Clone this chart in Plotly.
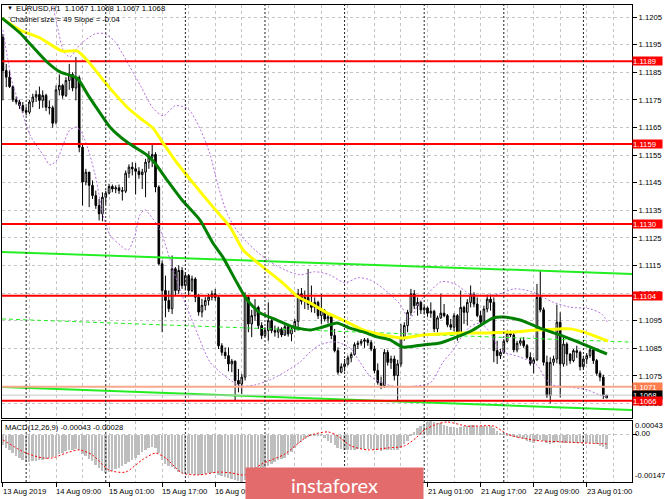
import plotly.graph_objects as go

# ---------------- data ----------------
bar_index = list(range(-16, 167))  # H1 bars, 0 = 14 Aug 09:00

opens = [1.11977, 1.11856, 1.11832, 1.11798, 1.11750, 1.11742, 1.11729, 1.11711, 1.11705, 1.11742,
         1.11760, 1.11769, 1.11748, 1.11766, 1.11723, 1.11721, 1.11669, 1.11786, 1.11802, 1.11766,
         1.11820, 1.11842, 1.11793, 1.11830, 1.11578, 1.11452, 1.11488, 1.11440, 1.11403, 1.11367,
         1.11337, 1.11397, 1.11412, 1.11436, 1.11427, 1.11431, 1.11421, 1.11419, 1.11484, 1.11506,
         1.11500, 1.11491, 1.11479, 1.11488, 1.11524, 1.11542, 1.11552, 1.11434, 1.11156, 1.11059,
         1.11023, 1.10993, 1.11138, 1.11059, 1.11132, 1.11077, 1.11113, 1.11059, 1.11101, 1.11035,
         1.10981, 1.11005, 1.11023, 1.11035, 1.11047, 1.11034, 1.10859, 1.10835, 1.10823, 1.10793,
         1.10803, 1.10733, 1.10720, 1.10745, 1.11034, 1.10938, 1.10968, 1.10998, 1.10932, 1.10896,
         1.10914, 1.10950, 1.10914, 1.10908, 1.10920, 1.10898, 1.10928, 1.10902, 1.10920, 1.10947,
         1.11047, 1.11020, 1.11034, 1.11008, 1.10998, 1.11016, 1.10968, 1.10986, 1.10956, 1.10964,
         1.10896, 1.10841, 1.10763, 1.10783, 1.10793, 1.10815, 1.10827, 1.10863, 1.10868, 1.10875,
         1.10880, 1.10871, 1.10847, 1.10769, 1.10726, 1.10714, 1.10835, 1.10799, 1.10811, 1.10751,
         1.10793, 1.10890, 1.10932, 1.10980, 1.11047, 1.11004, 1.11016, 1.10989, 1.10996, 1.10977,
         1.10984, 1.10920, 1.10960, 1.10977, 1.10968, 1.10935, 1.10926, 1.10968, 1.10904, 1.10998,
         1.10980, 1.11016, 1.11044, 1.11010, 1.10968, 1.10944, 1.10992, 1.11028, 1.11016, 1.10841,
         1.10823, 1.10835, 1.10875, 1.10904, 1.10898, 1.10844, 1.10868, 1.10877, 1.10859, 1.10817,
         1.10795, 1.10808, 1.11034, 1.10989, 1.10799, 1.10678, 1.10799, 1.10811, 1.10944, 1.10793,
         1.10865, 1.10829, 1.10805, 1.10841, 1.10835, 1.10783, 1.10811, 1.10823, 1.10844, 1.10805,
         1.10759, 1.10745, 1.10670]

highs = [1.11989, 1.11880, 1.11856, 1.11802, 1.11762, 1.11750, 1.11742, 1.11726, 1.11750, 1.11772,
         1.11784, 1.11798, 1.11784, 1.11772, 1.11748, 1.11729, 1.11802, 1.11842, 1.11808, 1.11832,
         1.11880, 1.11850, 1.11905, 1.11838, 1.11591, 1.11500, 1.11488, 1.11458, 1.11421, 1.11391,
         1.11415, 1.11421, 1.11446, 1.11443, 1.11440, 1.11443, 1.11434, 1.11494, 1.11516, 1.11524,
         1.11521, 1.11506, 1.11500, 1.11536, 1.11564, 1.11588, 1.11560, 1.11440, 1.11168, 1.11113,
         1.11059, 1.11186, 1.11144, 1.11150, 1.11144, 1.11126, 1.11119, 1.11113, 1.11107, 1.11047,
         1.11029, 1.11035, 1.11047, 1.11059, 1.11065, 1.11041, 1.10868, 1.10853, 1.10853, 1.10811,
         1.10805, 1.10775, 1.10757, 1.11053, 1.11041, 1.10989, 1.11028, 1.11004, 1.10944, 1.10926,
         1.11016, 1.10962, 1.10932, 1.10928, 1.10926, 1.10940, 1.10938, 1.10932, 1.10956, 1.11065,
         1.11068, 1.11059, 1.11137, 1.11077, 1.11034, 1.11022, 1.11047, 1.10992, 1.10974, 1.10968,
         1.10920, 1.10853, 1.10795, 1.10811, 1.10823, 1.10835, 1.10871, 1.10877, 1.10883, 1.10887,
         1.10887, 1.10880, 1.10859, 1.10795, 1.10747, 1.10847, 1.10844, 1.10823, 1.10823, 1.10808,
         1.10938, 1.10944, 1.10989, 1.11065, 1.11061, 1.11034, 1.11022, 1.11004, 1.11001, 1.11016,
         1.10989, 1.10968, 1.11047, 1.11010, 1.10974, 1.10956, 1.10977, 1.10974, 1.11059, 1.11004,
         1.11028, 1.11077, 1.11053, 1.11034, 1.10986, 1.11004, 1.11044, 1.11044, 1.11034, 1.10877,
         1.10847, 1.10883, 1.10914, 1.10914, 1.10908, 1.10877, 1.10887, 1.10890, 1.10865, 1.10835,
         1.10817, 1.11083, 1.11131, 1.10998, 1.10823, 1.10817, 1.10823, 1.11008, 1.10980, 1.10890,
         1.10871, 1.10832, 1.10847, 1.10859, 1.10841, 1.10823, 1.10832, 1.10853, 1.10851, 1.10811,
         1.10769, 1.10754, 1.10680]

lows = [1.11748, 1.11796, 1.11793, 1.11742, 1.11733, 1.11717, 1.11702, 1.11693, 1.11699, 1.11723,
        1.11742, 1.11717, 1.11721, 1.11709, 1.11697, 1.11649, 1.11661, 1.11766, 1.11754, 1.11760,
        1.11786, 1.11781, 1.11748, 1.11560, 1.11367, 1.11440, 1.11361, 1.11391, 1.11355, 1.11313,
        1.11310, 1.11371, 1.11407, 1.11415, 1.11412, 1.11409, 1.11385, 1.11412, 1.11467, 1.11476,
        1.11407, 1.11464, 1.11427, 1.11397, 1.11500, 1.11506, 1.11415, 1.11150, 1.10908, 1.10962,
        1.10981, 1.10974, 1.11041, 1.11047, 1.11065, 1.11059, 1.11041, 1.11053, 1.11017, 1.10968,
        1.10962, 1.10987, 1.11005, 1.11023, 1.11022, 1.10847, 1.10823, 1.10811, 1.10766, 1.10763,
        1.10660, 1.10690, 1.10684, 1.10733, 1.10908, 1.10890, 1.10950, 1.10920, 1.10883, 1.10890,
        1.10877, 1.10904, 1.10892, 1.10887, 1.10890, 1.10894, 1.10892, 1.10875, 1.10908, 1.10914,
        1.11008, 1.10992, 1.10989, 1.10980, 1.10977, 1.10956, 1.10938, 1.10947, 1.10940, 1.10883,
        1.10835, 1.10754, 1.10759, 1.10766, 1.10787, 1.10799, 1.10823, 1.10847, 1.10859, 1.10851,
        1.10859, 1.10839, 1.10759, 1.10718, 1.10702, 1.10706, 1.10787, 1.10775, 1.10733, 1.10660,
        1.10783, 1.10877, 1.10908, 1.10968, 1.10992, 1.10968, 1.10974, 1.10972, 1.10964, 1.10960,
        1.10908, 1.10908, 1.10956, 1.10962, 1.10926, 1.10916, 1.10911, 1.10877, 1.10890, 1.10938,
        1.10932, 1.10998, 1.10998, 1.10962, 1.10932, 1.10938, 1.10980, 1.10986, 1.10799, 1.10793,
        1.10811, 1.10829, 1.10871, 1.10890, 1.10835, 1.10835, 1.10859, 1.10851, 1.10811, 1.10787,
        1.10759, 1.10803, 1.10980, 1.10787, 1.10670, 1.10650, 1.10787, 1.10795, 1.10672, 1.10783,
        1.10787, 1.10793, 1.10799, 1.10815, 1.10769, 1.10771, 1.10793, 1.10815, 1.10793, 1.10751,
        1.10730, 1.10666, 1.10670]

closes = [1.11856, 1.11832, 1.11798, 1.11750, 1.11742, 1.11729, 1.11711, 1.11705, 1.11742, 1.11760,
          1.11769, 1.11748, 1.11766, 1.11723, 1.11721, 1.11665, 1.11786, 1.11802, 1.11766, 1.11820,
          1.11842, 1.11793, 1.11830, 1.11578, 1.11452, 1.11488, 1.11440, 1.11403, 1.11367, 1.11337,
          1.11397, 1.11412, 1.11436, 1.11427, 1.11431, 1.11421, 1.11419, 1.11484, 1.11506, 1.11500,
          1.11491, 1.11479, 1.11488, 1.11524, 1.11542, 1.11552, 1.11434, 1.11156, 1.11059, 1.11023,
          1.10993, 1.11138, 1.11059, 1.11132, 1.11077, 1.11113, 1.11059, 1.11101, 1.11035, 1.10981,
          1.11005, 1.11023, 1.11035, 1.11047, 1.11034, 1.10859, 1.10835, 1.10823, 1.10793, 1.10803,
          1.10733, 1.10720, 1.10745, 1.11034, 1.10938, 1.10968, 1.10998, 1.10932, 1.10896, 1.10914,
          1.10950, 1.10914, 1.10908, 1.10920, 1.10898, 1.10928, 1.10902, 1.10920, 1.10947, 1.11047,
          1.11020, 1.11034, 1.11008, 1.10998, 1.11016, 1.10968, 1.10986, 1.10956, 1.10964, 1.10896,
          1.10841, 1.10763, 1.10783, 1.10793, 1.10815, 1.10827, 1.10863, 1.10868, 1.10875, 1.10880,
          1.10871, 1.10847, 1.10769, 1.10726, 1.10714, 1.10835, 1.10799, 1.10811, 1.10751, 1.10793,
          1.10890, 1.10932, 1.10980, 1.11047, 1.11004, 1.11016, 1.10989, 1.10996, 1.10977, 1.10984,
          1.10920, 1.10960, 1.10977, 1.10968, 1.10935, 1.10926, 1.10968, 1.10904, 1.10998, 1.10980,
          1.11016, 1.11044, 1.11010, 1.10968, 1.10944, 1.10992, 1.11028, 1.11016, 1.10841, 1.10823,
          1.10835, 1.10875, 1.10904, 1.10898, 1.10844, 1.10868, 1.10877, 1.10859, 1.10817, 1.10795,
          1.10808, 1.11034, 1.10989, 1.10799, 1.10678, 1.10799, 1.10811, 1.10944, 1.10793, 1.10865,
          1.10829, 1.10805, 1.10841, 1.10835, 1.10783, 1.10811, 1.10823, 1.10844, 1.10805, 1.10759,
          1.10745, 1.10680, 1.10680]

# moving averages (sampled along the drawn curves)
ma_slow_idx = [-16.3, -10.85, -4.82, 1.81, 6.33, 9.35, 15.4, 21.4, 25.3, 29.2, 32.3, 36.5, 41.3, 47.3,
               52.5, 56.4, 62.4, 68.4, 73.0, 76.6, 81.7, 86.5, 92.6, 98.6, 104.3, 110.6, 115.8, 121.8,
               129.9, 137.8, 145.0, 151.9, 155.0, 158.9, 163.1, 166.4]
ma_slow_val = [1.12046, 1.12003, 1.11974, 1.11927, 1.11927, 1.11894, 1.11804, 1.11724, 1.11684, 1.11648,
               1.11593, 1.11521, 1.11449, 1.11362, 1.11289, 1.11206, 1.11144, 1.11086, 1.11036, 1.11014,
               1.10978, 1.10952, 1.10916, 1.10898, 1.10887, 1.10898, 1.10901, 1.10905, 1.10905, 1.10909,
               1.10916, 1.10920, 1.10920, 1.10909, 1.10891, 1.10876]
ma_fast_idx = [-16.3, -10.85, -6.93, -2.71, 1.21, 6.33, 9.65, 13.3, 16.3, 21.4, 27.4, 29.8, 33.5, 38.0,
               43.4, 47.3, 50.3, 54.6, 57.6, 61.5, 66.6, 71.5, 76.6, 80.5, 84.7, 88.6, 92.6, 96.8, 100.7,
               104.6, 110.6, 115.8, 120.9, 125.7, 131.7, 134.8, 139.9, 145.9, 151.9, 158.0, 166.1]
ma_fast_val = [1.12046, 1.11992, 1.11941, 1.11887, 1.11851, 1.11829, 1.11767, 1.11702, 1.11651, 1.11597,
               1.11550, 1.11521, 1.11459, 1.11387, 1.11314, 1.11231, 1.11180, 1.11086, 1.11025, 1.10978,
               1.10952, 1.10927, 1.10916, 1.10927, 1.10941, 1.10923, 1.10909, 1.10891, 1.10880, 1.10854,
               1.10862, 1.10869, 1.10891, 1.10916, 1.10959, 1.10963, 1.10952, 1.10923, 1.10898, 1.10869,
               1.10829]

# envelope bands (violet dotted)
band_up_idx = [-3, 0.5, 2.4, 4.2, 7.2, 11.8, 14.8, 17.8, 21.4, 25.3, 29.2, 32.3, 35.9, 39.8, 43.4, 46.4,
               48.8, 51.8, 55.5, 60, 64.5, 69, 73.5, 78, 82.5, 87.1, 91, 94.6, 99.1, 103.6, 106.6, 109.6,
               112.6, 116.2, 120.2, 124.7, 129.2, 133.7, 138.2, 143.6, 149.6, 154.8, 160.8, 164.4, 166.2]
band_up_val = [1.12220, 1.12010, 1.11924, 1.11906, 1.11949, 1.11989, 1.11989, 1.11960, 1.11888, 1.11805,
               1.11721, 1.11692, 1.11728, 1.11717, 1.11645, 1.11554, 1.11442, 1.11333, 1.11261, 1.11206,
               1.11163, 1.11134, 1.11116, 1.11127, 1.11116, 1.11087, 1.11105, 1.11098, 1.11062, 1.11011,
               1.10957, 1.11018, 1.11054, 1.11091, 1.11083, 1.11047, 1.11040, 1.11047, 1.11065, 1.11054,
               1.11018, 1.10999, 1.10993, 1.10975, 1.10946]
band_lo_idx = [-16, -14.5, -13, -10.9, -7.8, -3.9, -1.8, 0.3, 2.1, 4.2, 6.3, 8.7, 11.8, 14.2, 16.3, 19.3,
               21.7, 23.8, 25.3, 26.8, 28.3, 31.4, 34.4, 37.4, 40.4, 43.4, 46.4, 49.4, 52.5, 55.5, 60, 64.5,
               69, 73.6, 76.6, 79.6, 84.1, 88.6, 91.6, 94.7, 99.2, 103.7, 108.2, 112.8, 116.7, 119.7, 122.7,
               124.8, 127.8, 130.8, 133.9, 139.9, 145, 147.4, 149.8, 154.9, 160.1, 164, 166.1]
band_lo_val = [1.12003, 1.11894, 1.11804, 1.11731, 1.11622, 1.11550, 1.11514, 1.11532, 1.11586, 1.11641,
               1.11651, 1.11604, 1.11478, 1.11333, 1.11260, 1.11224, 1.11206, 1.11260, 1.11333, 1.11351,
               1.11333, 1.11278, 1.11170, 1.11061, 1.10970, 1.10880, 1.10800, 1.10764, 1.10735, 1.10713,
               1.10717, 1.10735, 1.10764, 1.10800, 1.10836, 1.10862, 1.10873, 1.10851, 1.10800, 1.10749,
               1.10720, 1.10709, 1.10713, 1.10724, 1.10800, 1.10843, 1.10898, 1.10927, 1.10941, 1.10909,
               1.10843, 1.10818, 1.10789, 1.10742, 1.10717, 1.10709, 1.10699, 1.10680, 1.10673]

# regression channel (start bar, end bar, prices)
channel_idx = [-16.28, 173.65]
channel_upper = [1.11199, 1.11119]
channel_mid = [1.10956, 1.10872]
channel_lower = [1.10709, 1.10626]

red_levels = [1.1189, 1.1159, 1.1130, 1.1104, 1.1066]
salmon_level = 1.1071
bid_level = 1.1068

# MACD(12,26,9): main histogram per bar + signal line samples
macd_hist = [-0.00032, -0.00040, -0.00048, -0.00058, -0.00065, -0.00072, -0.00079, -0.00084, -0.00085, -0.00083,
             -0.00081, -0.00079, -0.00077, -0.00075, -0.00072, -0.00070, -0.00066, -0.00060, -0.00056, -0.00051,
             -0.00048, -0.00046, -0.00044, -0.00046, -0.00060, -0.00066, -0.00074, -0.00083, -0.00094, -0.00103,
             -0.00112, -0.00118, -0.00116, -0.00112, -0.00108, -0.00104, -0.00098, -0.00092, -0.00085, -0.00079,
             -0.00072, -0.00064, -0.00055, -0.00048, -0.00042, -0.00038, -0.00040, -0.00058, -0.00078, -0.00090,
             -0.00098, -0.00100, -0.00108, -0.00115, -0.00119, -0.00121, -0.00122, -0.00123, -0.00124, -0.00125,
             -0.00124, -0.00122, -0.00120, -0.00119, -0.00119, -0.00124, -0.00128, -0.00131, -0.00134, -0.00137,
             -0.00141, -0.00144, -0.00147, -0.00140, -0.00133, -0.00127, -0.00120, -0.00114, -0.00108, -0.00102,
             -0.00096, -0.00090, -0.00085, -0.00080, -0.00076, -0.00072, -0.00062, -0.00052, -0.00042, -0.00030,
             -0.00022, -0.00014, -0.00008, -0.00005, -0.00004, -0.00003, -0.00004, -0.00010, -0.00018, -0.00026,
             -0.00032, -0.00040, -0.00044, -0.00047, -0.00048, -0.00047, -0.00046, -0.00045, -0.00044, -0.00043,
             -0.00043, -0.00044, -0.00046, -0.00048, -0.00050, -0.00048, -0.00047, -0.00046, -0.00047, -0.00046,
             -0.00040, -0.00030, -0.00018, -0.00002, 0.00010, 0.00020, 0.00028, 0.00034, 0.00040, 0.00043,
             0.00041, 0.00038, 0.00036, 0.00030, 0.00027, 0.00025, 0.00024, 0.00022, 0.00025, 0.00026,
             0.00027, 0.00030, 0.00030, 0.00028, 0.00026, 0.00026, 0.00027, 0.00028, 0.00020, 0.00012,
             0.00006, 0.00002, -0.00001, -0.00003, -0.00006, -0.00009, -0.00011, -0.00014, -0.00018, -0.00022,
             -0.00025, -0.00018, -0.00016, -0.00020, -0.00026, -0.00028, -0.00027, -0.00022, -0.00026, -0.00025,
             -0.00025, -0.00026, -0.00025, -0.00025, -0.00027, -0.00027, -0.00026, -0.00025, -0.00026, -0.00030,
             -0.00034, -0.00039, -0.00043]
signal_idx = [-16, -9, -4, -1, 3, 7, 11, 16, 21, 26, 30, 33, 38, 43, 49, 53, 57, 62, 69, 76, 82, 85, 89,
              94, 100, 105, 108.5, 111, 115, 118, 124, 132, 136, 140.5, 146, 153, 160, 166]
signal_val = [-0.00016, -0.00057, -0.00072, -0.00072, -0.00057, -0.00047, -0.00063, -0.00110, -0.00116,
              -0.00078, -0.00057, -0.00072, -0.00119, -0.00125, -0.00116, -0.00119, -0.00125, -0.00091,
              -0.00060, -0.00004, 0.00009, -0.00004, -0.00035, -0.00047, -0.00041, -0.00035, -0.00010,
              0.00015, 0.00034, 0.00040, 0.00027, 0.00027, 0.00002, -0.00010, -0.00019, -0.00022,
              -0.00026, -0.00028]

day_breaks = [-9, 15, 39, 63, 87, 111, 135, 159]
time_tick_idx = [-16, 0, 16, 32, 48, 64, 80, 96, 112, 128, 144, 160]
time_tick_text = ["13 Aug 2019", "14 Aug 09:00", "15 Aug 01:00", "15 Aug 17:00", "16 Aug 09:00",
                  "19 Aug 01:00", "19 Aug 17:00", "20 Aug 09:00", "21 Aug 01:00", "21 Aug 17:00",
                  "22 Aug 09:00", "23 Aug 01:00"]

# ---------------- layout geometry ----------------
W, H = 665, 499
L_PX, R_PX, T_PX, B_PX = 2, 632, 5, 482
MAIN_BOTTOM_PX, MACD_TOP_PX = 418, 421


def pxx(px):
    return (px - L_PX) / (R_PX - L_PX)


def pxy(py):
    return (B_PX - py) / (B_PX - T_PX)


X_RANGE = [-16.28, 173.65]
PRICE_RANGE = [1.105971, 1.120935]
MACD_RANGE = [-0.00147, 0.00043]
FONT = "Liberation Sans"
FS = 7.7
GRID = "#C4C4C4"

fig = go.Figure()

# channel
fig.add_trace(go.Scatter(x=channel_idx, y=channel_upper, mode="lines",
                         line=dict(color="#22EE22", width=2)))
fig.add_trace(go.Scatter(x=channel_idx, y=channel_lower, mode="lines",
                         line=dict(color="#22EE22", width=2)))
fig.add_trace(go.Scatter(x=channel_idx, y=channel_mid, mode="lines",
                         line=dict(color="#22EE22", width=1, dash="4px,3px")))

# bands
for bx, by in ((band_up_idx, band_up_val), (band_lo_idx, band_lo_val)):
    fig.add_trace(go.Scatter(x=bx, y=by, mode="lines",
                             line=dict(color="#B36FE0", width=1, dash="2px,2px", shape="spline",
                                       smoothing=0.8)))

# horizontal levels
fig.add_trace(go.Scatter(x=X_RANGE, y=[bid_level, bid_level], mode="lines",
                         line=dict(color="#C8C8C8", width=1)))
fig.add_trace(go.Scatter(x=X_RANGE, y=[salmon_level, salmon_level], mode="lines",
                         line=dict(color="#F7A98C", width=2)))

# candles
fig.add_trace(go.Candlestick(
    x=bar_index, open=opens, high=highs, low=lows, close=closes,
    increasing=dict(line=dict(color="#000000", width=1), fillcolor="#FFFFFF"),
    decreasing=dict(line=dict(color="#000000", width=1), fillcolor="#000000"),
    whiskerwidth=0))

for lv in red_levels:
    fig.add_trace(go.Scatter(x=X_RANGE, y=[lv, lv], mode="lines",
                             line=dict(color="#FF0000", width=2)))

# moving averages
fig.add_trace(go.Scatter(x=ma_slow_idx, y=ma_slow_val, mode="lines",
                         line=dict(color="#FFFF00", width=3, shape="spline", smoothing=0.6)))
fig.add_trace(go.Scatter(x=ma_fast_idx, y=ma_fast_val, mode="lines",
                         line=dict(color="#008000", width=3, shape="spline", smoothing=0.6)))

# MACD
fig.add_trace(go.Bar(x=bar_index, y=macd_hist, width=0.6, xaxis="x2", yaxis="y2",
                     marker=dict(color="#BEBEBE", line=dict(width=0))))
fig.add_trace(go.Scatter(x=signal_idx, y=signal_val, mode="lines", xaxis="x2", yaxis="y2",
                         line=dict(color="#FF0000", width=1, dash="2px,2px", shape="spline",
                                   smoothing=0.7)))

shapes = []
for d in day_breaks:
    for y0, y1 in ((pxy(MAIN_BOTTOM_PX), 1), (0, pxy(MACD_TOP_PX))):
        shapes.append(dict(type="line", xref="x", yref="paper", x0=d, x1=d, y0=y0, y1=y1,
                           line=dict(color="#202020", width=1, dash="2px,2px"), layer="above"))

ann = []
# header
ann.append(dict(x=pxx(5), y=pxy(8.5), xref="paper", yref="paper", text="▼", showarrow=False,
                xanchor="left", yanchor="middle", font=dict(family=FONT, size=6, color="#000")))
ann.append(dict(x=pxx(14), y=pxy(8.5), xref="paper", yref="paper",
                text="EURUSD,H1  1.1067 1.1068 1.1067 1.1068", showarrow=False,
                xanchor="left", yanchor="middle", font=dict(family=FONT, size=FS, color="#000")))
ann.append(dict(x=pxx(8), y=pxy(19.5), xref="paper", yref="paper",
                text="Channel size = 49 Slope = -0.04", showarrow=False,
                xanchor="left", yanchor="middle", font=dict(family=FONT, size=FS, color="#000")))
ann.append(dict(x=pxx(3), y=pxy(427.5), xref="paper", yref="paper",
                text="MACD(12,26,9) -0.00043 -0.00028", showarrow=False,
                xanchor="left", yanchor="middle", font=dict(family=FONT, size=FS, color="#000")))

# MACD scale labels
for txt, py in (("0.00043", 425.7), ("0.00", 433.0), ("-0.00147", 475.7)):
    ann.append(dict(x=pxx(633), y=pxy(py), xref="paper", yref="paper", text=txt,
                    showarrow=False, xanchor="left", yanchor="middle",
                    font=dict(family=FONT, size=FS, color="#000")))

# time labels
for ti, tt in zip(time_tick_idx, time_tick_text):
    ann.append(dict(x=ti, y=pxy(491), xref="x2", yref="paper", text=tt, showarrow=False,
                    xanchor="left", yanchor="middle", xshift=-2,
                    font=dict(family=FONT, size=FS, color="#000")))

# price tags on the right
tags = [(lv, "#FF0000") for lv in red_levels[:4]] + [(salmon_level, "#FF7E4F"),
                                                     (bid_level, "#000000"),
                                                     (red_levels[4], "#FF0000")]
for lv, col in tags:
    ann.append(dict(x=pxx(632), y=lv, xref="paper", yref="y", text=f"{lv:.4f}", showarrow=False,
                    xanchor="left", yanchor="middle", bgcolor=col, borderpad=0, width=29,
                    height=8, align="left", font=dict(family=FONT, size=FS, color="#FFFFFF")))

# watermark (drawn last so it covers the time labels beneath it)
ann.append(dict(x=pxx(245), y=pxy(467), xref="paper", yref="paper", text="instaforex",
                showarrow=False, xanchor="left", yanchor="top", width=177, height=34,
                bgcolor="#E36B6B", borderpad=0, align="center", valign="middle",
                font=dict(family="Lato", size=20, color="#FFFFFF")))

axis_line = dict(showline=True, mirror=True, linecolor="#000000", linewidth=1, zeroline=False)

fig.update_layout(
    width=W, height=H,
    margin=dict(l=L_PX, r=W - R_PX, t=T_PX, b=H - B_PX, autoexpand=False),
    paper_bgcolor="#FFFFFF", plot_bgcolor="#FFFFFF",
    showlegend=False, bargap=0,
    xaxis=dict(domain=[0, 1], range=X_RANGE, anchor="y", showticklabels=False, ticks="",
               showgrid=True, gridcolor=GRID, griddash="3px,3px", gridwidth=1,
               tick0=-16, dtick=8, rangeslider=dict(visible=False), **axis_line),
    yaxis=dict(domain=[pxy(MAIN_BOTTOM_PX), 1], range=PRICE_RANGE, side="right", anchor="x",
               tick0=1.1065, dtick=0.001, tickformat=".4f", ticks="outside", ticklen=4,
               tickcolor="#000000", tickfont=dict(family=FONT, size=FS, color="#000000"),
               showgrid=True, gridcolor=GRID, griddash="3px,3px", **axis_line),
    xaxis2=dict(domain=[0, 1], range=X_RANGE, anchor="y2", showticklabels=False,
                tick0=-16, dtick=16, ticks="outside", ticklen=4, tickcolor="#000000",
                showgrid=True, gridcolor=GRID, griddash="3px,3px",
                minor=dict(tick0=-16, dtick=8, showgrid=True, gridcolor=GRID, griddash="3px,3px",
                           ticks=""),
                **axis_line),
    yaxis2=dict(domain=[0, pxy(MACD_TOP_PX)], range=MACD_RANGE, side="right", anchor="x2",
                tickvals=[0], showticklabels=False, ticks="outside", ticklen=4,
                tickcolor="#000000", showgrid=True, gridcolor=GRID, griddash="3px,3px",
                **axis_line),
    shapes=shapes, annotations=ann,
)

fig.write_html("out.html", config={"displayModeBar": False},
               post_script="document.body.style.margin='0px';document.body.style.overflow='hidden';")
